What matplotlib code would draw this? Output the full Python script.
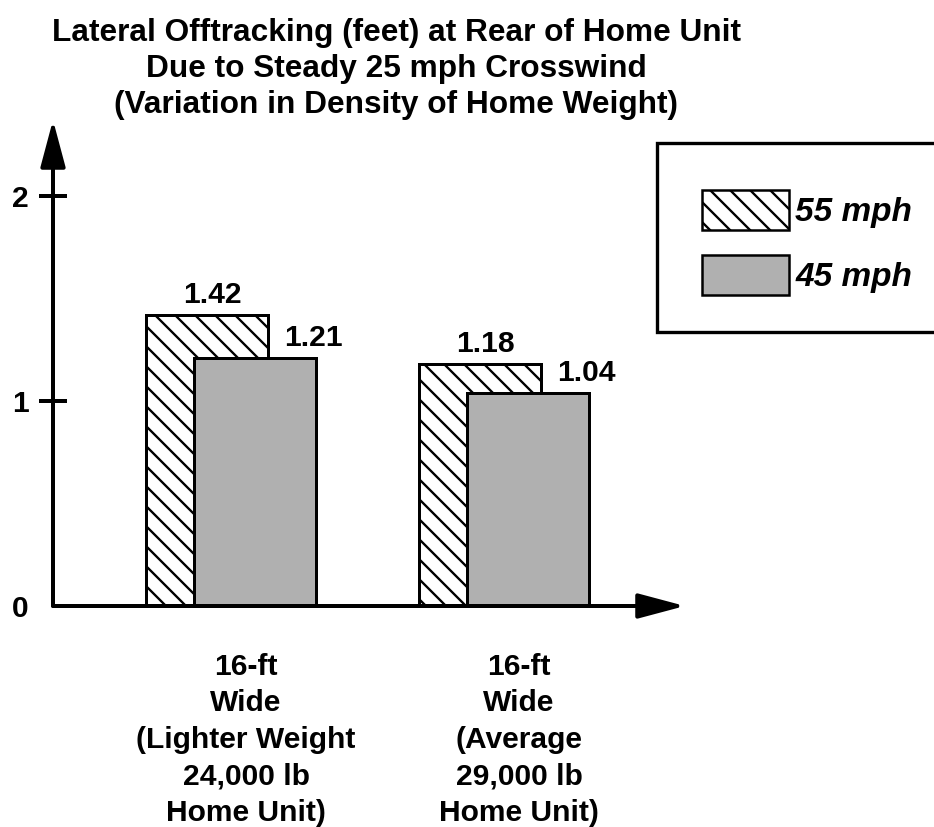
import numpy as np
import matplotlib
matplotlib.use("Agg")
import matplotlib.pyplot as plt
from matplotlib.patches import Patch, Rectangle

plt.rcParams['font.family'] = ['Liberation Sans', 'DejaVu Sans']
plt.rcParams['font.weight'] = 'bold'
plt.rcParams['hatch.linewidth'] = 1.4

# offtracking values (feet)
categories = ["16-ft\nWide\n(Lighter Weight\n24,000 lb\nHome Unit)",
              "16-ft\nWide\n(Average\n29,000 lb\nHome Unit)"]
speeds = ["55 mph", "45 mph"]
offtrack_55 = [1.42, 1.18]
offtrack_45 = [1.21, 1.04]
yticks = [0, 1, 2]

DPI = 120
FS = 18
fig = plt.figure(figsize=(934 / DPI, 827 / DPI), dpi=DPI)
ax = fig.add_axes([53 / 934, 221 / 827, 632 / 934, 486 / 827])

x = np.arange(len(categories))
width = 0.445
off = 0.088
gray = '#b0b0b0'

ax.bar(x - off, offtrack_55, width, facecolor='white', edgecolor='black',
       hatch='\\\\', linewidth=1.8, zorder=2)
ax.bar(x + off, offtrack_45, width, facecolor=gray, edgecolor='black',
       linewidth=1.8, zorder=3)

for xi, v in zip(x, offtrack_55):
    ax.text(xi - off + 0.02, v + 0.03, f"{v:.2f}", ha='center', va='bottom',
            fontsize=FS, fontweight='bold')
for xi, v in zip(x, offtrack_45):
    ax.text(xi + off + 0.215, v + 0.03, f"{v:.2f}", ha='center', va='bottom',
            fontsize=FS, fontweight='bold')

ax.set_xlim(-0.652, 1.663)
ax.set_ylim(0, 2.371)

for s in ax.spines.values():
    s.set_visible(False)

# axis arrows
arrow = dict(arrowstyle='-|>,head_length=1.2,head_width=0.32', lw=2.4,
             color='black', shrinkA=0, shrinkB=0, mutation_scale=20)
ax.annotate('', xy=(1, 0), xytext=(0, 0), xycoords='axes fraction',
            arrowprops=arrow, annotation_clip=False)
ax.annotate('', xy=(0, 1), xytext=(0, 0), xycoords='axes fraction',
            arrowprops=arrow, annotation_clip=False)

ax.set_yticks(yticks)
ax.set_yticklabels([str(t) for t in yticks], fontsize=FS, fontweight='bold')
ax.tick_params(axis='y', direction='inout', length=17, width=2.4, pad=6)
ax.yaxis.get_major_ticks()[0].tick1line.set_visible(False)

ax.set_xticks(x + 0.055)
ax.set_xticklabels(categories, fontsize=FS, fontweight='bold', linespacing=1.39)
ax.tick_params(axis='x', length=0, pad=28)

fig.text(396 / 934, 1 - 18 / 827,
         "Lateral Offtracking (feet) at Rear of Home Unit\n"
         "Due to Steady 25 mph Crosswind\n"
         "(Variation in Density of Home Weight)",
         ha='center', va='top', fontsize=19, fontweight='bold', linespacing=1.27)

# legend box
fig.patches.append(Rectangle((657 / 934, 1 - 332 / 827), 300 / 934, 189 / 827,
                             transform=fig.transFigure, facecolor='white',
                             edgecolor='black', linewidth=2.0, zorder=1))
handles = [Patch(facecolor='white', edgecolor='black', hatch='\\\\', linewidth=1.5),
           Patch(facecolor=gray, edgecolor='black', linewidth=1.5)]
leg = fig.legend(handles, speeds, loc='upper left',
                 bbox_to_anchor=(702 / 934, 1 - 190 / 827),
                 frameon=False, borderpad=0, borderaxespad=0,
                 handlelength=2.6, handleheight=1.48, handletextpad=0.2,
                 labelspacing=0.73, prop=dict(size=20, weight='bold', style='italic'))

fig.savefig("out.png", dpi=DPI)
